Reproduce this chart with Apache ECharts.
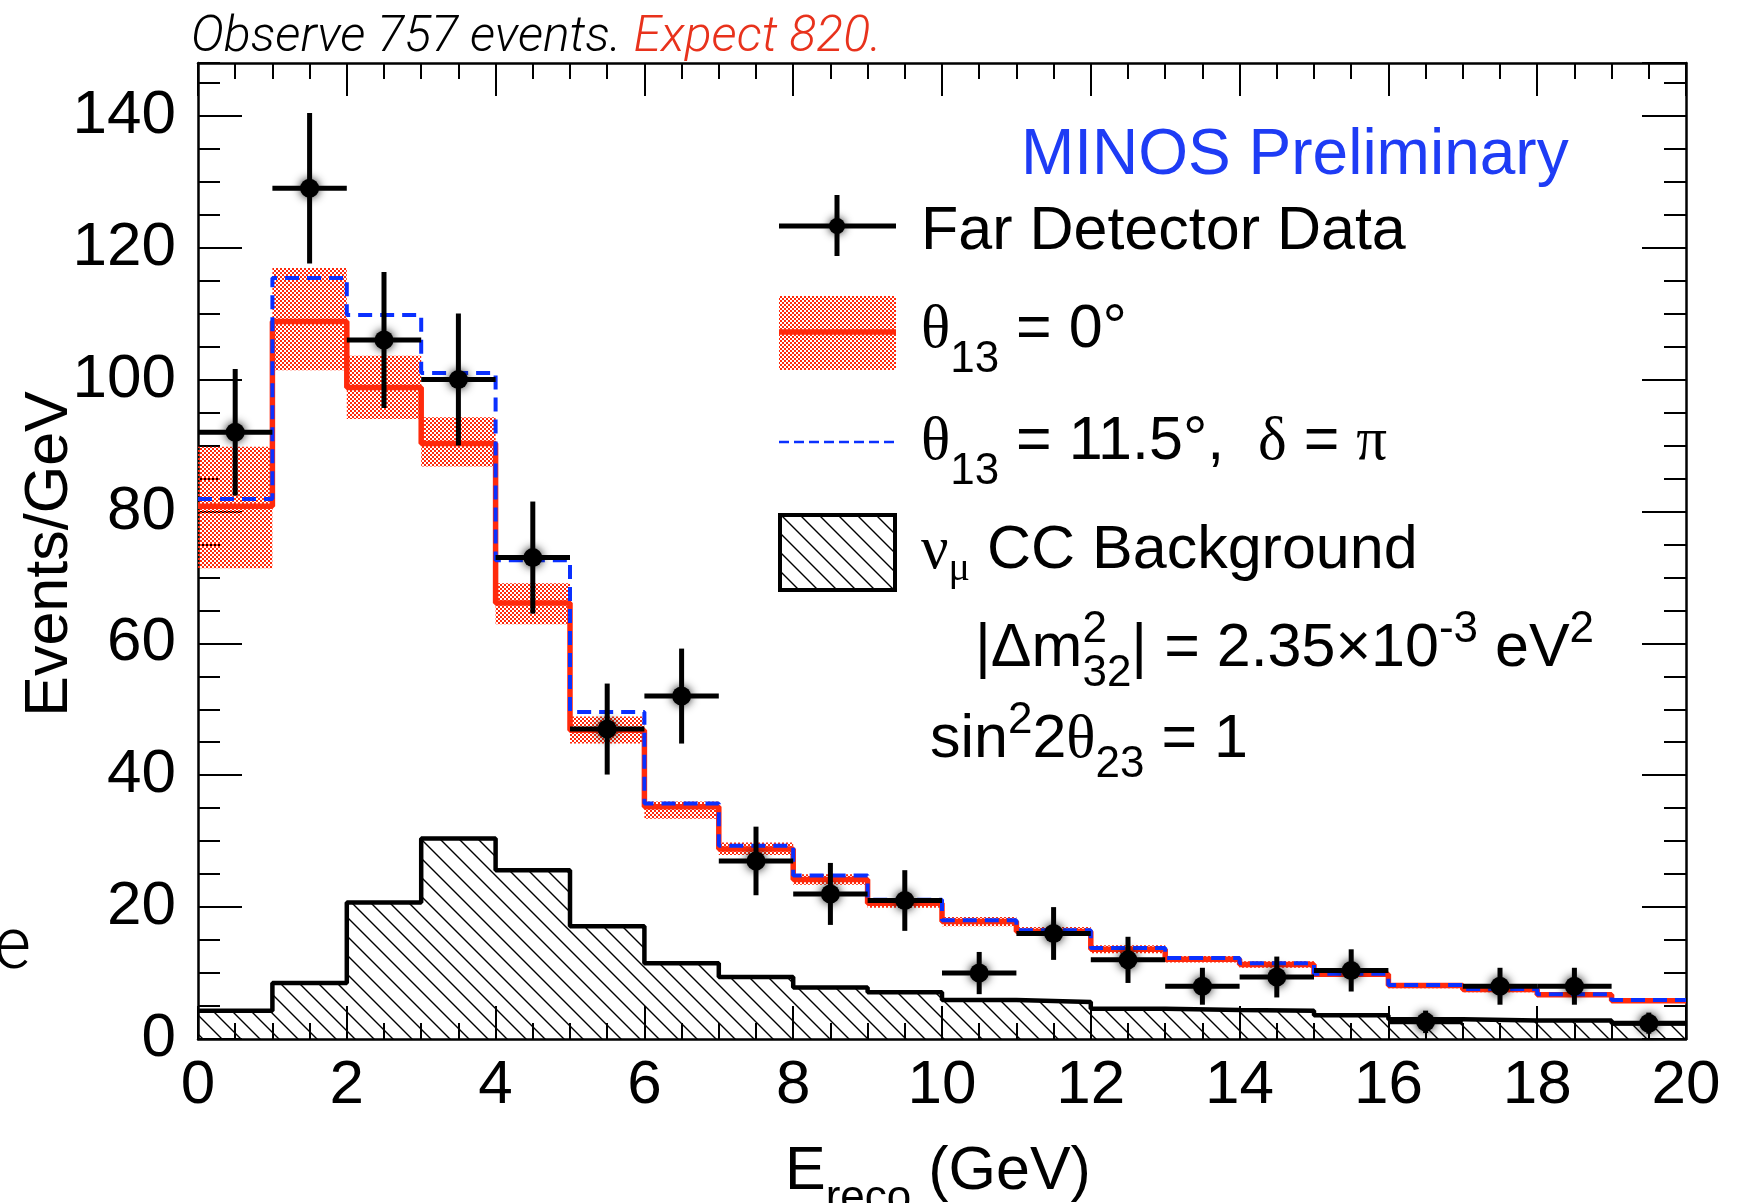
<!DOCTYPE html>
<html>
<head>
<meta charset="utf-8">
<script src="https://cdn.jsdelivr.net/npm/echarts@6/dist/echarts.min.js"></script>
<style>
  html, body { margin: 0; padding: 0; background: #fff; }
  #chart { width: 1746px; height: 1203px; }
</style>
</head>
<body>
<div id="chart"></div>
<script>
// Reconstructed energy bins (GeV); contents are events per GeV
const binEdges = [0, 1, 2, 3, 4, 5, 6, 7, 8, 9, 10, 11, 12, 13, 14, 15, 16, 17, 18, 19, 20];

// Far Detector data and its statistical errors
const farData    = [92, 129, 106, 100, 73, 47, 52, 27, 22, 21, 10, 16, 12, 8, 9.4, 10.4, 2.6, 8, 8, 2.4];
const farDataErr = [9.6, 11.4, 10.3, 10.0, 8.5, 6.9, 7.2, 5.2, 4.7, 4.6, 3.2, 4.0, 3.5, 2.8, 3.1, 3.2, 1.7, 2.8, 2.8, 1.6];

// Prediction for theta13 = 0 with its systematic band
const predTheta0     = [80.8, 108.8, 98.8, 90.3, 66.1, 46.8, 35.2, 28.8, 24.2, 20.6, 17.8, 16.3, 13.6, 12.1, 11.3, 9.8, 8.1, 7.5, 6.7, 5.8];
const predTheta0Low  = [71.4, 101.4, 94.0, 86.8, 62.9, 44.8, 33.4, 27.9, 23.4, 19.9, 17.1, 15.6, 13.0, 11.6, 10.8, 9.4, 7.7, 7.1, 6.4, 5.5];
const predTheta0High = [89.8, 116.9, 103.6, 94.3, 69.1, 48.9, 36.0, 29.8, 25.0, 21.3, 18.5, 17.0, 14.2, 12.6, 11.8, 10.2, 8.5, 7.9, 7.0, 6.1];

// Prediction for theta13 = 11.5 deg, delta = pi
const predTheta115 = [81.9, 115.4, 109.8, 101.0, 72.6, 49.6, 35.7, 29.3, 24.8, 21.1, 18.0, 16.5, 13.8, 12.3, 11.5, 9.9, 8.2, 7.6, 6.8, 5.9];

// nu_mu CC background
const numuCCBackground = [4.3, 8.5, 20.7, 30.4, 25.6, 17.1, 11.5, 9.4, 7.8, 7.1, 5.9, 5.6, 4.6, 4.4, 4.3, 3.6, 3.0, 2.8, 2.8, 2.4];

// Axis ranges and tick spacing
const xRange = [0, 20];
const yRange = [0, 148];
const xMajorStep = 2, xMinorStep = 0.5;
const yMajorStep = 20, yMinorStep = 5;

const SANS = '"Liberation Sans", Arial, Helvetica, sans-serif';
const SERIF = '"Liberation Serif", "Times New Roman", serif';
const LIGHT = 'Roboto, "Liberation Sans", sans-serif';
const RED = '#ff2a0c';
const BLUE = '#0a30ff';

// ---- fill patterns ----
function makeStipple() {
  const c = document.createElement('canvas');
  c.width = 4; c.height = 4;
  const g = c.getContext('2d');
  g.fillStyle = RED;
  g.fillRect(0, 0, 2, 2);
  g.fillRect(2, 2, 2, 2);
  return c;
}
function makeHatch(step, lw) {
  const c = document.createElement('canvas');
  c.width = step; c.height = step;
  const g = c.getContext('2d');
  g.strokeStyle = '#000';
  g.lineWidth = lw;
  g.beginPath();
  g.moveTo(-2, -2); g.lineTo(step + 2, step + 2);
  g.moveTo(step - 3, -3); g.lineTo(step + 3, 3);
  g.moveTo(-3, step - 3); g.lineTo(3, step + 3);
  g.stroke();
  return c;
}
const stipple = { image: makeStipple(), repeat: 'repeat' };
const hatch = { image: makeHatch(19, 1.4), repeat: 'repeat' };

// step outline points: value of each bin held until the next edge
function stepPoints(values) {
  return binEdges.map((e, i) => [e, values[Math.min(i, values.length - 1)]]);
}

// ---- text runs with sub/superscripts ----
const meas = document.createElement('canvas').getContext('2d');
function midOffset(font) {
  meas.font = font;
  meas.textBaseline = 'alphabetic';
  const a = meas.measureText('H').actualBoundingBoxAscent;
  meas.textBaseline = 'middle';
  const b = meas.measureText('H').actualBoundingBoxAscent;
  meas.textBaseline = 'alphabetic';
  return a - b;
}
function textRun(x, baseline, parts, color, alignRight) {
  const items = parts.map(p => {
    const font = (p.italic ? 'italic ' : '') + (p.weight || 'normal') + ' ' + p.size + 'px ' + (p.family || SANS);
    meas.font = font;
    return { p, font, w: meas.measureText(p.t).width };
  });
  let cx = x;
  if (alignRight) {
    cx = x - items.reduce((s, it) => s + (it.p.stack ? 0 : it.w), 0);
  }
  const els = [];
  for (const it of items) {
    els.push({
      type: 'text',
      x: cx,
      y: baseline + (it.p.dy || 0) - midOffset(it.font),
      z: 100,
      style: {
        text: it.p.t, font: it.font, fill: it.p.color || color,
        textAlign: 'left', textVerticalAlign: 'middle', verticalAlign: 'middle'
      }
    });
    if (!it.p.stack) cx += it.w;
  }
  return els;
}

const M = 61, S = 44;
const graphics = [];

// header line
graphics.push(...textRun(191, 51, [
  { t: 'Observe 757 events. ', size: 50, italic: true, weight: 300, family: LIGHT },
  { t: 'Expect 820.', size: 50, italic: true, weight: 300, family: LIGHT, color: '#e8321c' }
], '#000'));

// stray letter at the left edge
graphics.push(...textRun(31, 968, [{ t: 'e', size: 72, weight: 300, family: LIGHT }], '#000', true));

// experiment label
graphics.push(...textRun(1021, 174, [{ t: 'MINOS Preliminary', size: 64 }], '#1e3cf5'));

// legend entries
graphics.push(...textRun(921, 249, [{ t: 'Far Detector Data', size: M }], '#000'));
graphics.push(...textRun(921, 347, [
  { t: 'θ', size: M, family: SERIF },
  { t: '13', size: S, dy: 25 },
  { t: ' = 0°', size: M }
], '#000'));
graphics.push(...textRun(921, 459, [
  { t: 'θ', size: M, family: SERIF },
  { t: '13', size: S, dy: 25 },
  { t: ' = 11.5°,  ', size: M },
  { t: 'δ', size: M, family: SERIF },
  { t: ' = ', size: M },
  { t: 'π', size: M, family: SERIF }
], '#000'));
graphics.push(...textRun(921, 568, [
  { t: 'ν', size: M, family: SERIF },
  { t: 'μ', size: 40, family: SERIF, dy: 12 },
  { t: ' CC Background', size: M }
], '#000'));
graphics.push(...textRun(975, 666, [
  { t: '|Δm', size: M },
  { t: '2', size: S, dy: -24, stack: true },
  { t: '32', size: S, dy: 20 },
  { t: '| = 2.35', size: M },
  { t: '×', size: M },
  { t: '10', size: M },
  { t: '-3', size: S, dy: -24 },
  { t: ' eV', size: M },
  { t: '2', size: S, dy: -24 }
], '#000'));
graphics.push(...textRun(930, 757, [
  { t: 'sin', size: M },
  { t: '2', size: S, dy: -24 },
  { t: '2', size: M },
  { t: 'θ', size: M, family: SERIF },
  { t: '23', size: S, dy: 20 },
  { t: ' = 1', size: M }
], '#000'));

// axis titles
graphics.push(...textRun(785, 1189, [
  { t: 'E', size: M },
  { t: 'reco', size: S, dy: 22 },
  { t: ' (GeV)', size: M }
], '#000'));
graphics.push({
  type: 'text', x: 50, y: 554, rotation: Math.PI / 2, z: 100,
  style: { text: 'Events/GeV', font: 'normal ' + M + 'px ' + SANS, fill: '#000',
           textAlign: 'center', textVerticalAlign: 'middle', verticalAlign: 'middle' }
});

// legend icons
graphics.push(
  { type: 'line', z: 100, shape: { x1: 779, y1: 226, x2: 896, y2: 226 }, style: { stroke: '#000', lineWidth: 5 } },
  { type: 'line', z: 100, shape: { x1: 837, y1: 195, x2: 837, y2: 256 }, style: { stroke: '#000', lineWidth: 5 } },
  { type: 'circle', z: 101, shape: { cx: 837, cy: 226, r: 8 }, style: { fill: '#000', shadowBlur: 8, shadowColor: 'rgba(0,0,0,0.85)' } },
  { type: 'rect', z: 100, shape: { x: 779, y: 296, width: 117, height: 74 }, style: { fill: stipple } },
  { type: 'line', z: 101, shape: { x1: 779, y1: 332, x2: 896, y2: 332 }, style: { stroke: RED, lineWidth: 5.5 } },
  { type: 'line', z: 100, shape: { x1: 779, y1: 442, x2: 896, y2: 442 }, style: { stroke: BLUE, lineWidth: 2.5, lineDash: [10, 5] } },
  { type: 'rect', z: 100, shape: { x: 780, y: 515, width: 115, height: 75 }, style: { fill: hatch, stroke: '#000', lineWidth: 4 } }
);

// ---- axes: major + minor ticks on all four frame sides ----
function xAxisDef(position, step, tickLen, labels, line) {
  return {
    type: 'value', min: xRange[0], max: xRange[1], interval: step, position,
    axisLine: { show: line, onZero: false, lineStyle: { color: '#000', width: 2.5 } },
    axisTick: { show: true, inside: true, length: tickLen, lineStyle: { color: '#000', width: 2 } },
    axisLabel: labels
      ? { show: true, color: '#000', fontSize: 62, fontFamily: SANS, margin: 16 }
      : { show: false },
    splitLine: { show: false }
  };
}
function yAxisDef(position, step, tickLen, labels, line) {
  return {
    type: 'value', min: yRange[0], max: yRange[1], interval: step, position,
    axisLine: { show: line, onZero: false, lineStyle: { color: '#000', width: 2.5 } },
    axisTick: { show: true, inside: true, length: tickLen, lineStyle: { color: '#000', width: 2 } },
    axisLabel: labels
      ? { show: true, color: '#000', fontSize: 62, fontFamily: SANS, margin: 22, showMaxLabel: false }
      : { show: false },
    splitLine: { show: false }
  };
}

const option = {
  backgroundColor: '#fff',
  animation: false,
  grid: { left: 198, right: 60, top: 63, bottom: 164, containLabel: false, outerBoundsMode: 'none' },
  xAxis: [
    xAxisDef('bottom', xMajorStep, 33, true, true),
    xAxisDef('bottom', xMinorStep, 16, false, false),
    xAxisDef('top', xMajorStep, 33, false, true),
    xAxisDef('top', xMinorStep, 16, false, false)
  ],
  yAxis: [
    yAxisDef('left', yMajorStep, 44, true, true),
    yAxisDef('left', yMinorStep, 22, false, false),
    yAxisDef('right', yMajorStep, 44, false, true),
    yAxisDef('right', yMinorStep, 22, false, false)
  ],
  graphic: { elements: graphics },
  series: [
    {
      // systematic band around the theta13 = 0 prediction
      name: 'band', type: 'custom', xAxisIndex: 0, yAxisIndex: 0, z: 2,
      data: predTheta0Low.map((lo, i) => [binEdges[i], binEdges[i + 1], lo, predTheta0High[i]]),
      renderItem: (params, api) => {
        const a = api.coord([api.value(0), api.value(3)]);
        const b = api.coord([api.value(1), api.value(2)]);
        return { type: 'rect', shape: { x: a[0], y: a[1], width: b[0] - a[0], height: b[1] - a[1] },
                 style: { fill: stipple } };
      }
    },
    {
      name: 'θ13 = 0°', type: 'line', step: 'end', xAxisIndex: 0, yAxisIndex: 0, z: 3,
      data: stepPoints(predTheta0), symbol: 'none',
      lineStyle: { color: RED, width: 5.5 }
    },
    {
      name: 'θ13 = 11.5°', type: 'line', step: 'end', xAxisIndex: 0, yAxisIndex: 0, z: 4,
      data: stepPoints(predTheta115), symbol: 'none',
      lineStyle: { color: BLUE, width: 4, type: [14, 8] }
    },
    {
      name: 'νμ CC Background', type: 'line', step: 'end', xAxisIndex: 0, yAxisIndex: 0, z: 3,
      data: stepPoints(numuCCBackground), symbol: 'none',
      lineStyle: { color: '#000', width: 4.5 },
      areaStyle: { color: hatch, opacity: 1, origin: 'start' }
    },
    {
      name: 'Far Detector Data', type: 'custom', xAxisIndex: 0, yAxisIndex: 0, z: 6,
      data: farData.map((v, i) => [binEdges[i], binEdges[i + 1], v, farDataErr[i]]),
      renderItem: (params, api) => {
        const x0 = api.value(0), x1 = api.value(1), v = api.value(2), e = api.value(3);
        const xc = (x0 + x1) / 2;
        const l = api.coord([x0, v]), r = api.coord([x1, v]);
        const t = api.coord([xc, v + e]), b = api.coord([xc, Math.max(v - e, 0)]);
        const c = api.coord([xc, v]);
        return {
          type: 'group',
          children: [
            { type: 'line', shape: { x1: l[0], y1: l[1], x2: r[0], y2: r[1] }, style: { stroke: '#000', lineWidth: 5 } },
            { type: 'line', shape: { x1: t[0], y1: t[1], x2: b[0], y2: b[1] }, style: { stroke: '#000', lineWidth: 5 } },
            { type: 'circle', shape: { cx: c[0], cy: c[1], r: 9.5 },
              style: { fill: '#000', shadowBlur: 10, shadowColor: 'rgba(0,0,0,0.9)' } }
          ]
        };
      }
    }
  ]
};

const chart = echarts.init(document.getElementById('chart'), null, { renderer: 'canvas' });
chart.setOption(option);
</script>
</body>
</html>
